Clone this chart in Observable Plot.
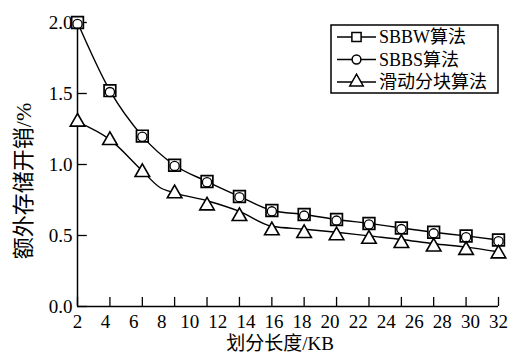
<!DOCTYPE html>
<html>
<head>
<meta charset="utf-8">
<script src="https://cdn.jsdelivr.net/npm/d3@7"></script>
<script src="https://cdn.jsdelivr.net/npm/@observablehq/plot@0.6"></script>
<style>
  html, body { margin: 0; padding: 0; background: #fff; }
  #chart { width: 509px; height: 356px; font-family: 'Liberation Serif', 'Noto Sans CJK SC', serif; }
</style>
</head>
<body>
<div id="chart"></div>
<script>
// ---- data ----
const xPos = [2, 4.31, 6.62, 8.92, 11.23, 13.54, 15.85, 18.15, 20.46, 22.77, 25.08, 27.38, 29.69, 32];
const sbbw = [2.0, 1.52, 1.2, 0.995, 0.88, 0.775, 0.676, 0.648, 0.613, 0.585, 0.553, 0.523, 0.497, 0.468];
const sbbs = [1.99, 1.51, 1.195, 0.99, 0.875, 0.77, 0.67, 0.64, 0.605, 0.577, 0.545, 0.515, 0.488, 0.46];
const slideMarker = [1.30, 1.17, 0.945, 0.795, 0.71, 0.635, 0.535, 0.515, 0.50, 0.475, 0.445, 0.42, 0.397, 0.372];
const slideLineX = [2, 4.31, 6.62, 7.85, 8.92, 11.23, 13.54, 15.85, 18.15, 20.46, 22.77, 25.08, 27.38, 29.69, 32];
const slideLineY = [1.30, 1.175, 0.955, 0.84, 0.80, 0.745, 0.67, 0.565, 0.545, 0.523, 0.497, 0.472, 0.442, 0.418, 0.385];
const xLabels = [2, 4, 6, 8, 10, 12, 14, 16, 18, 20, 22, 24, 26, 28, 30, 32];
const yTicks = [0, 0.5, 1.0, 1.5, 2.0];
const seriesNames = ["SBBW算法", "SBBS算法", "滑动分块算法"];
const xTitle = "划分长度/KB";
const yTitle = "额外存储开销/%";

const FONT = "'Liberation Serif', 'Noto Sans CJK SC', serif";

const ptsW = xPos.map((x, i) => ({x, y: sbbw[i]}));
const ptsS = xPos.map((x, i) => ({x, y: sbbs[i]}));
const ptsT = xPos.map((x, i) => ({x, y: slideMarker[i]}));
const lineT = slideLineX.map((x, i) => ({x, y: slideLineY[i]}));

const chart = Plot.plot({
  width: 509,
  height: 356,
  marginLeft: 77,
  marginRight: 11,
  marginTop: 22,
  marginBottom: 50,
  x: {domain: [2, 32]},
  y: {domain: [0, 2]},
  style: {fontFamily: FONT, fontSize: "19px", background: "#fff", color: "#000", overflow: "visible"},
  marks: [
    Plot.axisX(xLabels, {tickSize: 0, tickPadding: 8, tickFormat: d => String(d), label: null, fontSize: 19, fontFamily: FONT}),
    Plot.axisY(yTicks, {tickSize: 0, tickPadding: 5, tickFormat: d => d.toFixed(1), label: null, fontSize: 19, fontFamily: FONT}),
    Plot.ruleX([2], {y1: 0, y2: 2, stroke: "#000", strokeWidth: 1.5}),
    Plot.ruleY([0], {x1: 2, x2: 32, stroke: "#000", strokeWidth: 1.5}),
    Plot.ruleX(xPos, {x: d => d, y1: 0, y2: 0.064, stroke: "#000", strokeWidth: 1.3}),
    Plot.ruleY(yTicks, {y: d => d, x1: 2, x2: 2.7, stroke: "#000", strokeWidth: 1.3}),
    Plot.line(ptsW, {x: "x", y: "y", curve: "monotone-x", stroke: "#000", strokeWidth: 1.4}),
    Plot.line(lineT, {x: "x", y: "y", curve: "monotone-x", stroke: "#000", strokeWidth: 1.4}),
    Plot.dot(ptsW, {x: "x", y: "y", symbol: "square", r: 6.6, stroke: "#000", strokeWidth: 1.7, fill: "#fff"}),
    Plot.dot(ptsS, {x: "x", y: "y", symbol: "circle", r: 4.6, stroke: "#000", strokeWidth: 1.3, fill: "none"}),
    Plot.dot(ptsT, {x: "x", y: "y", symbol: "triangle", r: 5.4, stroke: "#000", strokeWidth: 1.6, fill: "#fff"})
  ]
});

document.getElementById("chart").appendChild(chart);

const svg = d3.select(chart);

// ---- axis titles ----
svg.append("text").attr("font-family", FONT).attr("font-size", 19).attr("fill", "#000")
  .attr("text-anchor", "middle").attr("x", 280).attr("y", 343).attr("dy", "0.35em").text(xTitle);
svg.append("text").attr("font-family", FONT).attr("font-size", 22).attr("fill", "#000")
  .attr("text-anchor", "middle").attr("transform", "translate(23,181) rotate(-90)")
  .attr("dy", "0.35em").text(yTitle);

// ---- legend ----
const lg = svg.append("g").attr("font-family", FONT).attr("font-size", 18).attr("text-anchor", "start");
lg.append("rect").attr("x", 331).attr("y", 25).attr("width", 167).attr("height", 68)
  .attr("fill", "#fff").attr("stroke", "#000").attr("stroke-width", 1.5);
const syms = [
  {type: d3.symbolSquare, r: 5.2, sw: 1.5},
  {type: d3.symbolCircle, r: 4.4, sw: 1.5},
  {type: d3.symbolTriangle, r: 5.0, sw: 1.5}
];
const rowY = [37, 59.5, 82];
seriesNames.forEach((name, i) => {
  const g = lg.append("g").attr("transform", `translate(0,${rowY[i]})`);
  g.append("line").attr("x1", 337).attr("x2", 376).attr("y1", 0).attr("y2", 0)
    .attr("stroke", "#000").attr("stroke-width", 1.4);
  g.append("path").attr("d", d3.symbol(syms[i].type, Math.PI * syms[i].r * syms[i].r)())
    .attr("transform", "translate(356.5,0)")
    .attr("fill", "#fff").attr("stroke", "#000").attr("stroke-width", syms[i].sw);
  g.append("text").attr("x", 379).attr("y", 0).attr("dy", "0.35em").attr("fill", "#000").text(name);
});
</script>
</body>
</html>
